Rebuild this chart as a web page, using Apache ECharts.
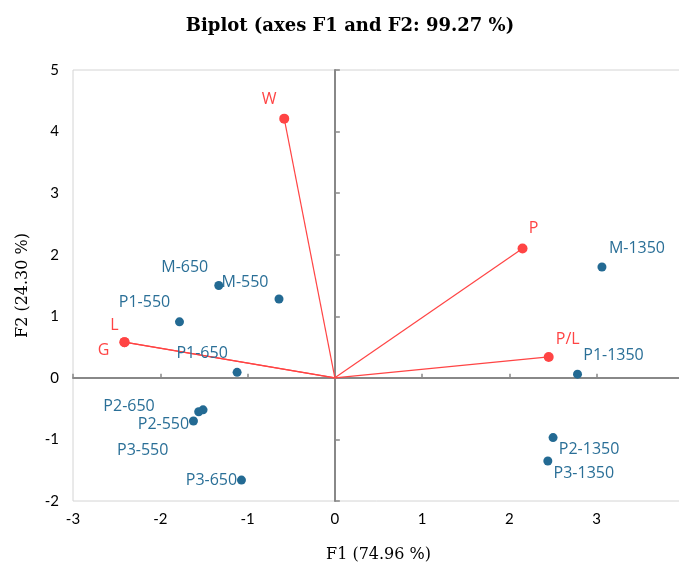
<!DOCTYPE html>
<html>
<head>
<meta charset="utf-8">
<script src="https://cdn.jsdelivr.net/npm/echarts@6/dist/echarts.min.js"></script>
<style>
  html, body { margin: 0; padding: 0; background: #fff; }
  #main { width: 679px; height: 570px; }
</style>
</head>
<body>
<div id="main"></div>
<script>
// observations (F1, F2)
var obsNames = ['M-1350', 'P1-1350', 'P2-1350', 'P3-1350', 'M-550', 'M-650', 'P1-550', 'P1-650', 'P2-650', 'P3-550', 'P2-550', 'P3-650'];
var obsF1 = [3.06, 2.78, 2.50, 2.44, -0.64, -1.33, -1.78, -1.12, -1.51, -1.56, -1.62, -1.07];
var obsF2 = [1.80, 0.06, -0.97, -1.35, 1.28, 1.50, 0.91, 0.09, -0.52, -0.55, -0.70, -1.66];

// variables (loadings)
var varNames = ['W', 'P', 'P/L', 'L', 'G'];
var varF1 = [-0.58, 2.15, 2.45, -2.41, -2.41];
var varF2 = [4.21, 2.10, 0.34, 0.58, 0.58];

// label offsets in px (relative to the point), as placed in the original
var obsLabelOffset = {
    'M-1350': [35, -19], 'P1-1350': [36, -19], 'P2-1350': [36, 12], 'P3-1350': [36, 12],
    'M-550': [-34, -17], 'M-650': [-34, -18], 'P1-550': [-35, -19], 'P1-650': [-35, -19],
    'P2-650': [-74, -3], 'P3-550': [-56, 39], 'P2-550': [-30, 3], 'P3-650': [-30, 0]
};
var varLabelOffset = {
    'W': [-15, -19], 'P': [11, -20], 'P/L': [19, -17], 'L': [-10, -17], 'G': [-21, 8]
};

var blue = '#236a93';
var red = '#ff4444';

var obsData = obsNames.map(function (n, i) {
    return {
        name: n,
        value: [obsF1[i], obsF2[i]],
        label: { offset: obsLabelOffset[n] }
    };
});
var varData = varNames.map(function (n, i) {
    return {
        name: n,
        value: [varF1[i], varF2[i]],
        label: { offset: varLabelOffset[n] }
    };
});
var arrowData = varNames.map(function (n, i) {
    return { coords: [[0, 0], [varF1[i], varF2[i]]] };
});

var myChart = echarts.init(document.getElementById('main'));

var labelFont = { fontFamily: 'Lato', fontSize: 15, color: '#000' };
var serif = 'DejaVu Serif';

var option = {
    animation: false,
    title: {
        text: 'Biplot (axes F1 and F2: 99.27 %)',
        left: 345,
        top: 12,
        textAlign: 'center',
        textStyle: { fontFamily: serif, fontWeight: 'bold', fontSize: 18, color: '#000' }
    },
    grid: {
        left: 73, top: 70, width: 611, height: 431,
        outerBoundsMode: 'none',
        containLabel: false,
        show: true, borderColor: '#d4d4d4', borderWidth: 1
    },
    xAxis: [{
        type: 'value', min: -3, max: 4, interval: 1, position: 'bottom',
        axisLine: { show: false, onZero: false }, axisTick: { show: false }, splitLine: { show: false },
        axisLabel: Object.assign({ margin: 11, showMaxLabel: true, hideOverlap: false }, labelFont),
        name: 'F1 (74.96 %)', nameLocation: 'middle', nameGap: 46,
        nameTextStyle: { fontFamily: serif, fontSize: 16, color: '#000' }
    }, {
        type: 'value', min: -3, max: 4, interval: 1, position: 'top',
        axisLine: { show: true, onZero: true, lineStyle: { color: '#888', width: 2 } },
        axisTick: { show: true, length: 4, lineStyle: { color: '#888', width: 1.5 } },
        axisLabel: { show: false }, splitLine: { show: false }
    }],
    yAxis: [{
        type: 'value', min: -2, max: 5, interval: 1, position: 'left',
        axisLine: { show: false, onZero: false }, axisTick: { show: false }, splitLine: { show: false },
        axisLabel: Object.assign({ margin: 14 }, labelFont),
        name: 'F2 (24.30 %)', nameLocation: 'middle', nameGap: 42,
        nameTextStyle: { fontFamily: serif, fontSize: 16, color: '#000' }
    }, {
        type: 'value', min: -2, max: 5, interval: 1, position: 'right',
        axisLine: { show: true, onZero: true, lineStyle: { color: '#888', width: 2 } },
        axisTick: { show: true, length: 5, lineStyle: { color: '#888', width: 1.5 } },
        axisLabel: { show: false }, splitLine: { show: false }
    }],
    series: [{
        name: 'arrows',
        type: 'lines',
        coordinateSystem: 'cartesian2d',
        xAxisIndex: 0, yAxisIndex: 0,
        lineStyle: { color: red, width: 1.2, opacity: 1 },
        symbol: 'none',
        data: arrowData,
        z: 2
    }, {
        name: 'variables',
        type: 'scatter',
        xAxisIndex: 0, yAxisIndex: 0,
        symbolSize: 10,
        itemStyle: { color: red, opacity: 1 },
        label: {
            show: true, position: 'inside', formatter: '{b}',
            fontFamily: 'Open Sans', fontSize: 16, color: red
        },
        data: varData,
        z: 3
    }, {
        name: 'observations',
        type: 'scatter',
        xAxisIndex: 0, yAxisIndex: 0,
        symbolSize: 9,
        itemStyle: { color: blue, opacity: 1 },
        label: {
            show: true, position: 'inside', formatter: '{b}',
            fontFamily: 'Open Sans', fontSize: 16, color: '#2a6f97'
        },
        data: obsData,
        z: 3
    }]
};

myChart.setOption(option);
</script>
</body>
</html>
